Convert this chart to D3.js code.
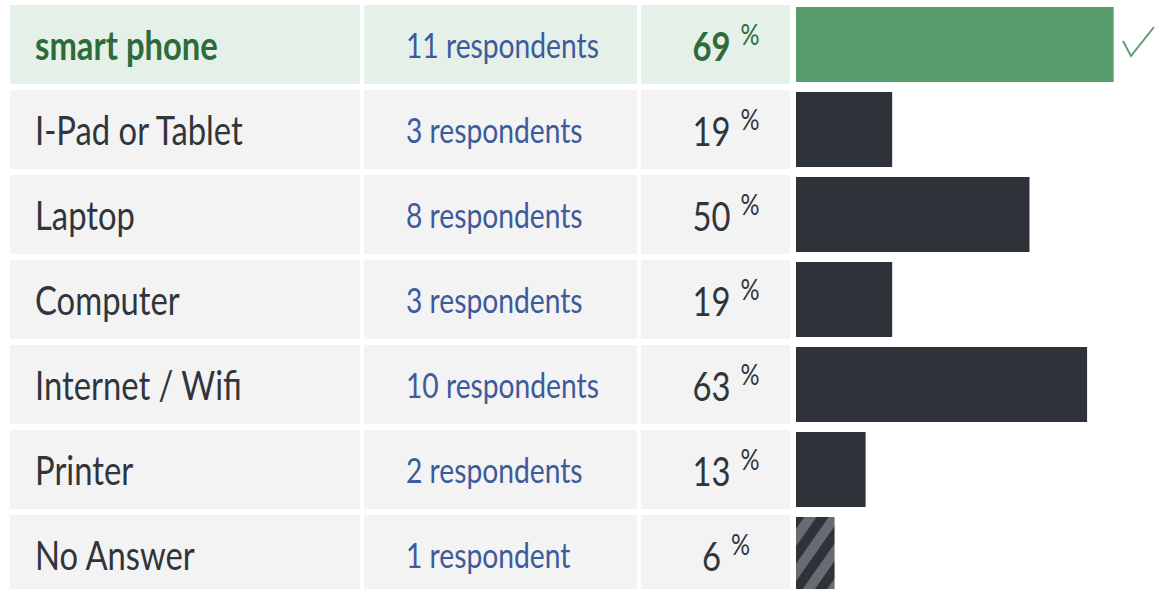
<!DOCTYPE html>
<html><head><meta charset="utf-8">
<script src="https://cdn.jsdelivr.net/npm/d3@7"></script>
<style>html,body{margin:0;padding:0;background:#fff;}svg{display:block;}</style>
</head><body>
<svg id="chart" width="1157" height="589"></svg>
<script>
const categories = ["smart phone","I-Pad or Tablet","Laptop","Computer","Internet / Wifi","Printer","No Answer"];
const respondents = [11,3,8,3,10,2,1];
const percents = [69,19,50,19,63,13,6];
const selected = [true,false,false,false,false,false,false];
const noAnswer = [false,false,false,false,false,false,true];

const svg = d3.select("#chart");
const font = "Lato, 'Open Sans', sans-serif";
const sx = 0.82;

const y = d3.scaleBand().domain(categories).range([5, 594]).paddingInner(6/85).paddingOuter(0);
const x = d3.scaleLinear().domain([0,100]).range([0, 443]);
const barX0 = 796, minW = 12;

const defs = svg.append("defs");
const pat = defs.append("pattern").attr("id","stripes").attr("patternUnits","userSpaceOnUse")
  .attr("width",20).attr("height",20).attr("patternTransform","rotate(35)");
pat.append("rect").attr("width",20).attr("height",20).attr("fill","#2e333a");
pat.append("rect").attr("width",10).attr("height",20).attr("fill","#686c72");

const rows = svg.selectAll("g.row").data(categories).join("g").attr("class","row")
  .attr("transform", d => `translate(0,${y(d)})`);
const h = y.bandwidth();

const cols = [[10,360],[364,637],[641,790]];
cols.forEach(c => {
  rows.append("rect").attr("x",c[0]).attr("y",0).attr("width",c[1]-c[0]).attr("height",h)
    .attr("fill",(d,i)=> selected[i] ? "#e4f0e8" : "#f3f3f3");
});

rows.append("text").attr("transform",`translate(35,55) scale(${sx},1)`)
  .attr("font-family",font).attr("font-size",40)
  .attr("font-weight",(d,i)=>selected[i]?700:400)
  .attr("fill",(d,i)=>selected[i]?"#2e6b3b":"#30353c")
  .text(d=>d);

rows.append("text").attr("transform",`translate(406,53) scale(0.83,1)`)
  .attr("font-family",font).attr("font-size",34)
  .attr("fill","#3d5b9b")
  .text((d,i)=> respondents[i] + (respondents[i]===1?" respondent":" respondents"));

const pt = rows.append("text").attr("transform",`translate(726,56) scale(${sx},1)`)
  .attr("font-family",font).attr("text-anchor","middle")
  .attr("fill",(d,i)=>selected[i]?"#2e6b3b":"#30353c");
pt.append("tspan").attr("font-size",40).attr("font-weight",(d,i)=>selected[i]?700:400)
  .text((d,i)=>percents[i]);
pt.append("tspan").attr("font-size",29).attr("dx",12).attr("dy",-16).attr("font-weight",400)
  .text("%");

rows.append("rect").attr("x",barX0).attr("y",2).attr("height",h-4)
  .attr("width",(d,i)=> minW + x(percents[i]))
  .attr("fill",(d,i)=> selected[i] ? "#589e6c" : noAnswer[i] ? "url(#stripes)" : "#2e333a");

rows.filter((d,i)=>selected[i]).append("path")
  .attr("d","M1123,36 L1131,51 L1154,22")
  .attr("fill","none").attr("stroke","#5a9e70").attr("stroke-width",2);
</script>
</body></html>
